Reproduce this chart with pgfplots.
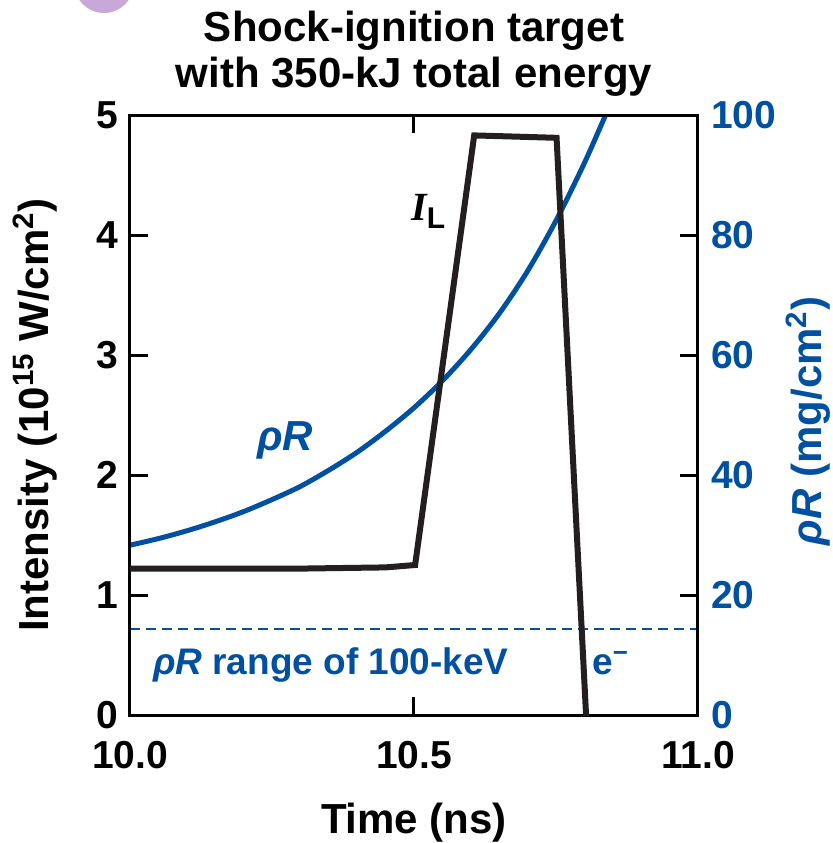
\documentclass[border=0pt]{standalone}
\usepackage{fontspec}
\setmainfont{Liberation Sans}
\setsansfont{Liberation Sans}
\newfontfamily\serifI{Liberation Serif}
\usepackage{pgfplots}
\pgfplotsset{compat=1.18}
\definecolor{lleblue}{RGB}{0,80,162}
\definecolor{lleblack}{RGB}{35,31,32}
\definecolor{llepurple}{RGB}{200,168,214}
\pgfplotstableread{
x y
10.00 28.3
10.05 29.4
10.10 30.7
10.15 32.2
10.20 33.9
10.25 35.9
10.30 38.1
10.35 40.8
10.40 43.8
10.45 47.3
10.50 51.2
10.55 55.7
10.60 60.9
10.65 66.9
10.70 74.0
10.75 82.4
10.80 92.0
10.84 100.6
}\rhoR
\pgfplotstableread{
x y
10.000 1.22
10.300 1.22
10.450 1.23
10.502 1.25
10.606 4.83
10.751 4.81
10.8035 -0.05
}\intensity
\begin{document}
\begin{tikzpicture}
\path[use as bounding box] (-65pt,-64pt) rectangle (351.5pt,357.5pt);
\fill[llepurple] (-13pt,366pt) circle (15pt);
% right axis: rho R
\begin{axis}[
  at={(0,0)}, anchor=south west,
  width=284pt, height=300pt, scale only axis,
  xmin=10, xmax=11, ymin=0, ymax=100,
  axis x line=none,
  axis y line*=right,
  ytick={0,20,...,100},
  tick align=inside,
  major tick length=9pt,
  every tick/.style={black, line width=1.5pt},
  axis line style={black, line width=1.5pt},
  /pgf/number format/assume math mode=true,
  yticklabel style={font=\fontsize{19.5}{20}\selectfont\bfseries, text=lleblue, anchor=west, xshift=3pt},
  ylabel={\textit{ρR} (mg/cm\textsuperscript{2})},
  every axis y label/.style={at={(axis description cs:1,0.49)}, xshift=55pt, rotate=90, anchor=center, font=\fontsize{21}{24}\selectfont\bfseries, text=lleblue},
  clip=true,
]
\addplot[lleblue, line width=1.2pt, dash pattern=on 5pt off 3pt] coordinates {(10,14.3) (11,14.3)};
\addplot[lleblue, line width=2.5pt, smooth] table[x=x,y=y] {\rhoR};
\end{axis}
% left axis: intensity
\begin{axis}[
  at={(0,0)}, anchor=south west,
  width=284pt, height=300pt, scale only axis,
  xmin=10, xmax=11, ymin=0, ymax=5,
  xtick={10,10.5,11}, xticklabels={10.0,10.5,11.0},
  ytick={0,1,...,5},
  ytick pos=left, xtick pos=both,
  tick align=inside,
  major tick length=9pt,
  every tick/.style={black, line width=1.5pt},
  axis line style={black, line width=1.5pt},
  /pgf/number format/assume math mode=true,
  ticklabel style={font=\fontsize{19.5}{20}\selectfont\bfseries},
  xticklabel style={anchor=base, yshift=-26.5pt},
  yticklabel style={anchor=east, xshift=-2.5pt},
  xlabel={Time (ns)},
  ylabel={Intensity (10\textsuperscript{15} W/cm\textsuperscript{2})},
  every axis x label/.style={at={(axis description cs:0.5,0)}, yshift=-59pt, anchor=base, font=\fontsize{21}{24}\selectfont\bfseries},
  every axis y label/.style={at={(axis description cs:0,0.5)}, xshift=-47.5pt, rotate=90, anchor=center, font=\fontsize{21}{24}\selectfont\bfseries},
  title={Shock-ignition target\\with 350-kJ total energy},
  every axis title/.style={at={(axis description cs:0.5,1)}, anchor=south, yshift=9pt, align=center, inner sep=0pt, font=\fontsize{21}{23}\selectfont\bfseries},
  clip=true,
]
\addplot[lleblack, line width=3pt, line join=miter] table[x=x,y=y] {\intensity};
\node[lleblue, font=\fontsize{21}{24}\selectfont\bfseries\itshape] at (axis cs:10.273,2.29) {ρR};
\node[font=\fontsize{20}{24}\selectfont\bfseries] at (axis cs:10.525,4.2) {{\serifI\itshape I}\raisebox{-4pt}{\fontsize{15}{18}\selectfont L}};
\node[lleblue, anchor=base west, font=\fontsize{18.5}{22}\selectfont\bfseries, inner sep=0pt] at (axis cs:10.04,0.34) {\textit{ρR} range of 100-keV};
\node[lleblue, anchor=base west, font=\fontsize{18.5}{22}\selectfont\bfseries, inner sep=0pt] at (axis cs:10.813,0.34) {e\textsuperscript{−}};
\end{axis}
\end{tikzpicture}
\end{document}
